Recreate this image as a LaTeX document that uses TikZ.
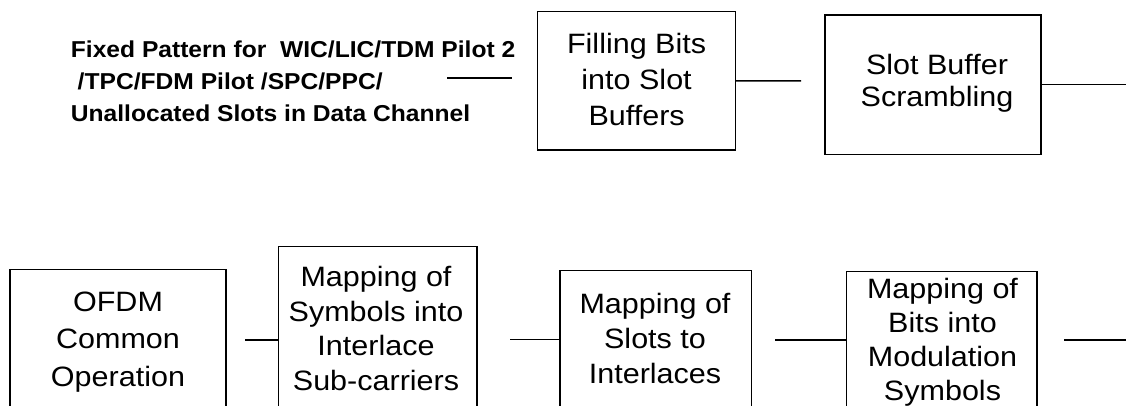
\documentclass[tikz,border=0pt]{standalone}
\usepackage{fontspec}
\setmainfont{Liberation Sans}
\newfontfamily\boxfont[FakeStretch=1.09]{Liberation Sans}
\newfontfamily\srcfont[FakeStretch=1.07]{Liberation Sans}
\begin{document}
\begin{tikzpicture}[x=1pt,y=-1pt,
  blockbox/.style={draw=black,line width=1.5pt,inner sep=0pt,outer sep=0pt,anchor=north west},
  blocktext/.style={inner sep=0pt,align=center,font=\boxfont\fontsize{28}{34}\selectfont},
  srctext/.style={inner sep=0pt,align=left,anchor=west,font=\srcfont\bfseries\fontsize{23}{31.75}\selectfont},
  link/.style={draw=black,line width=1.5pt}]
\useasboundingbox (0,0) rectangle (1126,406);
\clip (0,0) rectangle (1126,406);
% top row
\node[srctext] (src) at (70.7,81.3) {Fixed Pattern for\ \ WIC/LIC/TDM Pilot 2\\\ /TPC/FDM Pilot /SPC/PPC/\\Unallocated Slots in Data Channel};
\node[blockbox,minimum width=198.2pt,minimum height=138.3pt] (fill) at (537.5,11.7) {};
\node[blocktext,font=\boxfont\fontsize{28}{36}\selectfont] (fillt) at (636.6,79.2) {Filling Bits\\into Slot\\Buffers};
\node[blockbox,minimum width=216pt,minimum height=139.3pt] (scr) at (825,15) {};
\node[blocktext,font=\boxfont\fontsize{28}{32}\selectfont] (scrt) at (937,83.6) {Slot Buffer\\Scrambling};
% bottom row
\node[blockbox,minimum width=216pt,minimum height=160pt] (ofdm) at (10,269.3) {};
\node[blocktext,font=\boxfont\fontsize{28}{37.5}\selectfont] (ofdmt) at (118,342) {OFDM\\Common\\Operation};
\node[blockbox,minimum width=198.7pt,minimum height=180pt] (symb) at (278.3,246.7) {};
\node[blocktext,font=\boxfont\fontsize{28}{34.5}\selectfont] (symbt) at (376,328.3) {Mapping of\\Symbols into\\Interlace\\Sub-carriers};
\node[blockbox,minimum width=191.5pt,minimum height=160pt] (slots) at (560,270.7) {};
\node[blocktext,font=\boxfont\fontsize{28}{35}\selectfont] (slotst) at (655,338.3) {Mapping of\\Slots to\\Interlaces};
\node[blockbox,minimum width=190.3pt,minimum height=160pt] (bits) at (846.7,271.7) {};
\node[blocktext,font=\boxfont\fontsize{28}{33.9}\selectfont] (bitst) at (942.5,342) {Mapping of\\Bits into\\Modulation\\Symbols};
% connectors
\coordinate (c0a) at (447,78);
\coordinate (c0b) at (512,78);
\draw[link] (c0a) -- (c0b);
\coordinate (c1) at (801,80.85);
\draw[link] (fill.east) -- (c1);
\coordinate (c2) at (1130,84.65);
\draw[link] (scr.east) -- (c2);
\coordinate (c3) at (245,340);
\draw[link] (c3) -- (c3 -| symb.west);
\coordinate (c4) at (510,339.5);
\draw[link] (c4) -- (c4 -| slots.west);
\coordinate (c5) at (775,340);
\draw[link] (c5) -- (c5 -| bits.west);
\coordinate (c6) at (1064,340);
\coordinate (c7) at (1130,340);
\draw[link] (c6) -- (c7);
\end{tikzpicture}
\end{document}
